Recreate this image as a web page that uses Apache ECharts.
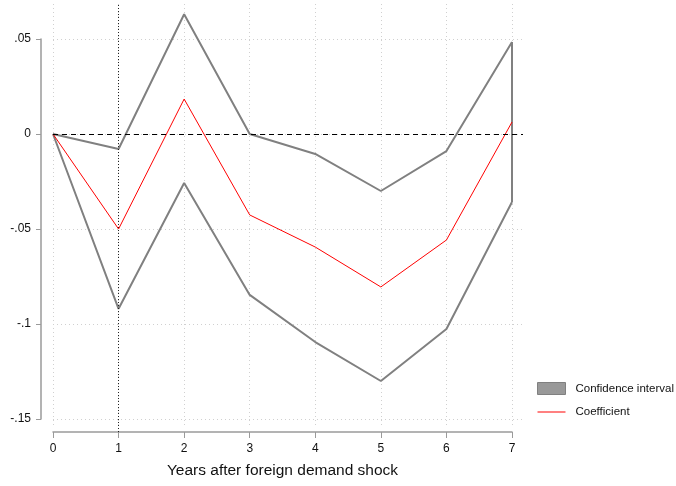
<!DOCTYPE html>
<html lang="en">
<head>
<meta charset="utf-8">
<title>Foreign demand shock</title>
<script src="https://cdn.jsdelivr.net/npm/echarts@6/dist/echarts.min.js"></script>
<style>
  html, body { margin: 0; padding: 0; background: #fff; }
  #chart { width: 676px; height: 486px; }
</style>
</head>
<body>
<div id="chart"></div>
<script>
// years after the shock
var years = [0, 1, 2, 3, 4, 5, 6, 7];
// point estimate and confidence bounds
var coef  = [0, -0.050, 0.0184, -0.0426, -0.0595, -0.0805, -0.0558, 0.0063];
var upper = [0, -0.0079, 0.0630, 0.0000, -0.0105, -0.0300, -0.0090, 0.0484];
var lower = [0, -0.0920, -0.0258, -0.0847, -0.1095, -0.1300, -0.1026, -0.0358];
var yTicks = [-0.15, -0.1, -0.05, 0, 0.05];

function pairs(ys) {
  return years.map(function (x, i) { return [x, ys[i]]; });
}
function fmtY(v) {
  var s = String(Math.round(v * 100) / 100);
  return s.replace('0.', '.');
}

var font = '"Liberation Sans", Arial, sans-serif';
var axisGray = '#9a9a9a';
var gridDot = { color: '#d0d0d0', width: 1, type: [1, 3] };

var chart = echarts.init(document.getElementById('chart'));
chart.setOption({
  animation: false,
  textStyle: { fontFamily: font },
  grid: [
    { left: 53, right: 164, top: 39, bottom: 67 },   // data
    { left: 53, right: 153, top: 39, bottom: 67 },   // horizontal grid
    { left: 53, right: 164, top: 4, bottom: 60 },    // vertical grid
    { left: 53, right: 164, top: 4, bottom: 54 }     // shock-year marker
  ],
  xAxis: [
    {
      gridIndex: 0, type: 'value', min: 0, max: 7, interval: 1, offset: 13,
      axisLine: { show: true, onZero: false, lineStyle: { color: axisGray, width: 1.5 } },
      axisTick: { show: true, length: 6, lineStyle: { color: axisGray } },
      axisLabel: { color: '#111', fontSize: 12, margin: 11, fontFamily: font },
      splitLine: { show: false },
      name: 'Years after foreign demand shock', nameLocation: 'middle', nameGap: 31,
      nameTextStyle: { color: '#111', fontSize: 15.5, fontFamily: font }
    },
    {
      gridIndex: 1, type: 'value', min: 0, max: 7, show: false,
      splitLine: { show: false }
    },
    {
      gridIndex: 2, type: 'value', min: 0, max: 7, interval: 1,
      axisLine: { show: false }, axisTick: { show: false }, axisLabel: { show: false },
      splitLine: { show: true, lineStyle: gridDot }
    },
    {
      gridIndex: 3, type: 'value', min: 0, max: 7, show: false,
      splitLine: { show: false }
    }
  ],
  yAxis: [
    {
      gridIndex: 0, type: 'value', min: yTicks[0], max: yTicks[yTicks.length - 1],
      interval: 0.05, offset: 12,
      axisLine: { show: true, onZero: false, lineStyle: { color: axisGray, width: 1.5 } },
      axisTick: { show: true, length: 5, lineStyle: { color: axisGray } },
      axisLabel: { color: '#111', fontSize: 12, margin: 10, formatter: fmtY, fontFamily: font },
      splitLine: { show: false }
    },
    {
      gridIndex: 1, type: 'value', min: yTicks[0], max: yTicks[yTicks.length - 1],
      interval: 0.05,
      axisLine: { show: false }, axisTick: { show: false }, axisLabel: { show: false },
      splitLine: { show: true, lineStyle: gridDot }
    },
    {
      gridIndex: 2, type: 'value', min: 0, max: 1, show: false,
      splitLine: { show: false }
    },
    {
      gridIndex: 3, type: 'value', min: 0, max: 1, show: false,
      splitLine: { show: false }
    }
  ],
  legend: {
    orient: 'vertical', left: 532, top: 377, padding: 5,
    itemWidth: 28, itemHeight: 12, itemGap: 11,
    textStyle: { color: '#111', fontSize: 11.5, fontFamily: font, padding: [0, 0, 0, 5] },
    data: [
      { name: 'Confidence interval', icon: 'rect',
        itemStyle: { color: '#999999', borderColor: '#808080', borderWidth: 1 } },
      { name: 'Coefficient', icon: 'path://M0,0 L28,0 L28,1 L0,1 Z',
        itemStyle: { color: '#ff0000', borderWidth: 0 } }
    ]
  },
  series: [
    {
      name: 'zero', type: 'line', xAxisIndex: 1, yAxisIndex: 1, data: [],
      markLine: {
        silent: true, symbol: 'none', label: { show: false },
        lineStyle: { color: '#000', width: 1.2, type: [5, 4] },
        data: [{ yAxis: 0 }]
      }
    },
    {
      name: 'shock year', type: 'line', xAxisIndex: 3, yAxisIndex: 3, data: [],
      markLine: {
        silent: true, symbol: 'none', label: { show: false },
        lineStyle: { color: '#222', width: 1, type: [1, 2] },
        data: [{ xAxis: 1 }]
      }
    },
    {
      name: 'Confidence interval', type: 'line', data: pairs(upper), clip: false,
      symbol: 'none', color: '#808080',
      lineStyle: { color: '#808080', width: 2 }
    },
    {
      name: 'Confidence interval', type: 'line', data: pairs(lower), clip: false,
      symbol: 'none', color: '#808080',
      lineStyle: { color: '#808080', width: 2 }
    },
    {
      name: 'Confidence interval', type: 'line', clip: false,
      data: [[years[7], upper[7]], [years[7], lower[7]]],
      symbol: 'none', color: '#808080',
      lineStyle: { color: '#808080', width: 2 }
    },
    {
      name: 'Coefficient', type: 'line', data: pairs(coef), clip: false,
      symbol: 'none', color: '#ff0000',
      lineStyle: { color: '#ff0000', width: 1 }
    }
  ]
});
</script>
</body>
</html>
